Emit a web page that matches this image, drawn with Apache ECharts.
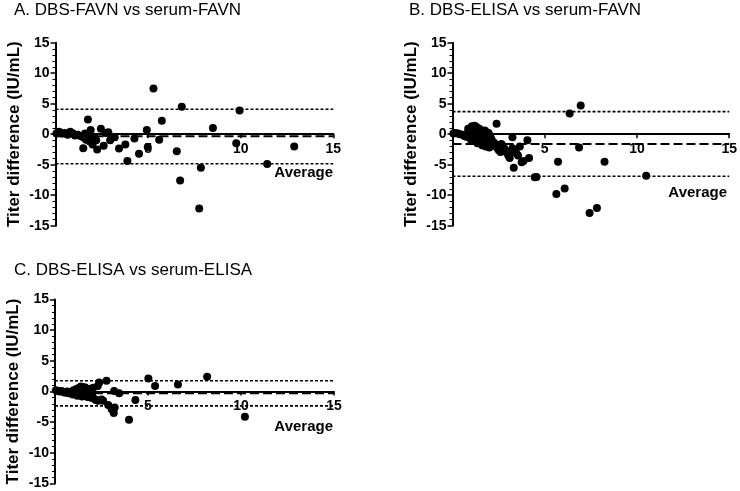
<!DOCTYPE html>
<html><head><meta charset="utf-8">
<script src="https://cdn.jsdelivr.net/npm/echarts@6/dist/echarts.min.js"></script>
<style>html,body{margin:0;padding:0;background:#fff}#c{width:740px;height:491px}</style>
</head><body><div id="c"></div>
<script>
var panelTitles = ['A. DBS-FAVN vs serum-FAVN', 'B. DBS-ELISA vs serum-FAVN', 'C. DBS-ELISA vs serum-ELISA'];
var yTitle = 'Titer difference (IU/mL)';
var xTitle = 'Average';
var xTicks = [0, 5, 10, 15];
var yTicks = [-15, -10, -5, 0, 5, 10, 15];

// [average, difference]
var pointsA = [[0.05,0.1],[0.2,0.4],[0.35,0.1],[0.5,0.2],[0.65,-0.1],[0.8,0.4],[0.95,0.1],[1.05,-0.2],[1.2,-0.1],[1.35,-0.3],[1.5,-0.5],[1.6,0.1],[1.65,-0.9],[1.75,2.4],[1.85,-1.2],[1.9,0.7],[1.95,-0.3],[2.0,-1.7],[2.1,-0.6],[2.2,-1.0],[2.25,-2.5],[2.45,0.9],[2.6,-1.9],[2.7,0.2],[2.85,0.3],[2.95,-1.0],[3.2,-0.5],[1.5,-2.3],[3.43,-2.35],[3.77,-1.69],[3.88,-4.4],[4.26,-0.7],[4.51,-3.2],[4.93,0.7],[4.98,-2.1],[5.29,7.5],[5.6,-0.9],[5.74,2.2],[6.55,-2.8],[6.73,-7.6],[6.82,4.5],[7.76,-12.2],[7.85,-5.5],[8.5,1.0],[9.76,-1.5],[9.94,3.9],[11.43,-4.9],[12.89,-2.0]];
var pointsB = [[0.05,0.1],[0.15,0.2],[0.3,0.1],[0.4,0.0],[0.55,-0.1],[0.65,-0.3],[0.75,-0.4],
  [0.85,0.9],[0.85,0.3],[0.9,-0.5],[0.95,-0.1],[1.0,0.4],[1.0,-0.9],[1.05,1.3],[1.1,0.0],[1.1,0.8],[1.15,-1.1],[1.2,1.4],[1.2,0.5],[1.25,-0.5],[1.3,1.2],[1.3,0.2],[1.35,-1.5],[1.4,0.1],[1.4,-0.8],[1.45,0.9],[1.5,-1.2],[1.55,0.6],[1.55,-0.3],[1.6,-1.8],[1.65,0.2],[1.65,-1.0],[1.7,-0.7],[1.75,0.6],[1.75,-1.5],[1.8,-2.0],[1.85,0.3],[1.85,-0.4],[1.9,-1.4],[1.95,0.2],[1.95,-0.9],[2.0,-2.2],[2.05,-0.3],[2.05,-1.7],[2.1,-0.8],
  [2.15,-1.1],[2.25,-1.4],[2.3,-1.7],[2.35,-2.0],[2.45,-2.3],[2.5,-2.6],[2.6,-2.9],
  [2.65,-1.6],[2.7,-1.9],[2.8,-2.3],[2.85,-2.6],[2.9,-2.9],[3.0,-3.3],[3.05,-3.6],[3.1,-3.9],
  [3.25,-2.3],[3.35,-2.7],[3.45,-3.1],[3.55,-3.5],
  [3.25,-0.5],[2.39,1.7],[3.32,-5.5],[3.65,-2.0],[3.75,-4.6],[3.85,-4.4],[4.06,-1.0],[4.15,-3.9],[4.46,-7.05],[4.55,-7.0],[5.63,-9.8],[5.72,-4.5],[6.08,-8.9],[6.35,3.4],[6.86,-2.2],[6.95,4.7],[7.43,-12.9],[7.83,-12.1],[8.24,-4.5],[10.5,-6.8]];
var pointsC = [[0.05,0.2],[0.15,0.1],[0.25,0.0],[0.35,0.1],[0.45,-0.1],[0.55,-0.2],[0.65,0.0],[0.75,-0.3],[0.85,-0.1],[0.95,-0.5],[1.0,0.2],[1.1,-0.4],[1.15,0.4],[1.2,-0.7],[1.25,0.1],[1.3,0.6],[1.35,-0.3],[1.4,0.8],[1.45,-0.8],[1.5,0.3],[1.55,-0.5],[1.6,0.7],[1.65,-0.2],[1.7,0.5],[1.75,-0.9],[1.8,0.1],[1.85,-0.6],[1.9,0.4],[1.95,-1.0],[2.0,-0.3],[2.05,0.6],[2.1,-1.2],[2.2,-1.4],[2.3,0.9],[2.32,-1.5],[2.38,1.45],[2.5,-1.3],[2.59,-1.5],[2.77,1.75],[2.86,-2.2],[3.05,-2.9],[3.16,-3.5],[3.18,0.1],[3.21,-2.6],[3.45,-0.3],[3.98,-4.6],[4.32,-1.4],[5.02,2.1],[5.38,0.9],[6.61,1.15],[8.18,2.4],[10.21,-4.1]];

// [mean bias, upper limit, lower limit]
var limitsA = [-0.35, 4.1, -4.85];
var limitsB = [-1.6, 3.7, -6.9];
var limitsC = [-0.3, 1.75, -2.35];

var points = [pointsA, pointsB, pointsC];
var limits = [limitsA, limitsB, limitsC];

var FONT = 'Liberation Sans, Arial, sans-serif';
var grids = [
  {left: 55.5, top: 42.7, width: 277.8, height: 183},
  {left: 452.5, top: 42.7, width: 277.5, height: 183},
  {left: 55, top: 299.5, width: 279, height: 184}
];
var titlePos = [{left: 14, top: 2}, {left: 409, top: 2}, {left: 14, top: 262}];
var avgPos = [{x: 333, y: 172.5}, {x: 727, y: 192.5}, {x: 333, y: 426.5}];

var option = {
  animation: false,
  backgroundColor: '#fff',
  title: panelTitles.map(function(t, i){
    return {text: t, left: titlePos[i].left, top: titlePos[i].top, padding: 0,
      textStyle: {fontFamily: FONT, fontSize: 17, fontWeight: 'normal', color: '#000'}};
  }),
  grid: grids,
  xAxis: grids.map(function(g, i){
    return {type: 'value', gridIndex: i, min: xTicks[0], max: xTicks[xTicks.length-1], interval: 5,
      position: 'bottom', offset: -g.height / 2,
      axisLine: {onZero: false, lineStyle: {color: '#000', width: 2}},
      axisTick: {show: true, length: 4, lineStyle: {color: '#000', width: 1.5}},
      axisLabel: {margin: 8, fontFamily: FONT, fontSize: 14, fontWeight: 'bold', color: '#000',
        formatter: function(v){ return v === 0 ? '' : String(v); }},
      splitLine: {show: false}, z: 5};
  }),
  yAxis: grids.map(function(g, i){
    return {type: 'value', gridIndex: i, min: yTicks[0], max: yTicks[yTicks.length-1], interval: 5,
      name: yTitle, nameLocation: 'middle', nameGap: 33,
      nameTextStyle: {fontFamily: FONT, fontSize: 17, fontWeight: 'bold', color: '#000'},
      axisLine: {show: true, onZero: false, lineStyle: {color: '#000', width: 2}},
      axisTick: {show: true, length: 5, lineStyle: {color: '#000', width: 1.5}},
      minorTick: {show: true, splitNumber: 5, length: 3, lineStyle: {color: '#000', width: 1}},
      axisLabel: {margin: 6, fontFamily: FONT, fontSize: 14, fontWeight: 'bold', color: '#000'},
      splitLine: {show: false}};
  }),
  graphic: avgPos.map(function(p){
    return {type: 'text', x: p.x, y: p.y, style: {text: xTitle, fontFamily: FONT, fontSize: 15,
      fontWeight: 'bold', fill: '#000', align: 'right', verticalAlign: 'middle'}};
  }),
  series: []
};

points.forEach(function(pts, i){
  var lim = limits[i];
  var x0 = xTicks[0], x1 = xTicks[xTicks.length-1];
  option.series.push({type: 'line', xAxisIndex: i, yAxisIndex: i, data: [[x0, lim[0]], [x1, lim[0]]],
    symbol: 'none', silent: true, lineStyle: {color: '#000', width: 2, type: [9, 4]}, z: 3});
  option.series.push({type: 'line', xAxisIndex: i, yAxisIndex: i, data: [[x0, lim[1]], [x1, lim[1]]],
    symbol: 'none', silent: true, lineStyle: {color: '#000', width: 1.6, type: [3, 2]}, z: 3});
  option.series.push({type: 'line', xAxisIndex: i, yAxisIndex: i, data: [[x0, lim[2]], [x1, lim[2]]],
    symbol: 'none', silent: true, lineStyle: {color: '#000', width: 1.6, type: [3, 2]}, z: 3});
  option.series.push({type: 'scatter', xAxisIndex: i, yAxisIndex: i, data: pts, symbol: 'circle',
    symbolSize: 8, itemStyle: {color: '#000', opacity: 1}, z: 4});
});

var chart = echarts.init(document.getElementById('c'), null, {renderer: 'canvas'});
chart.setOption(option);
</script>
</body></html>
